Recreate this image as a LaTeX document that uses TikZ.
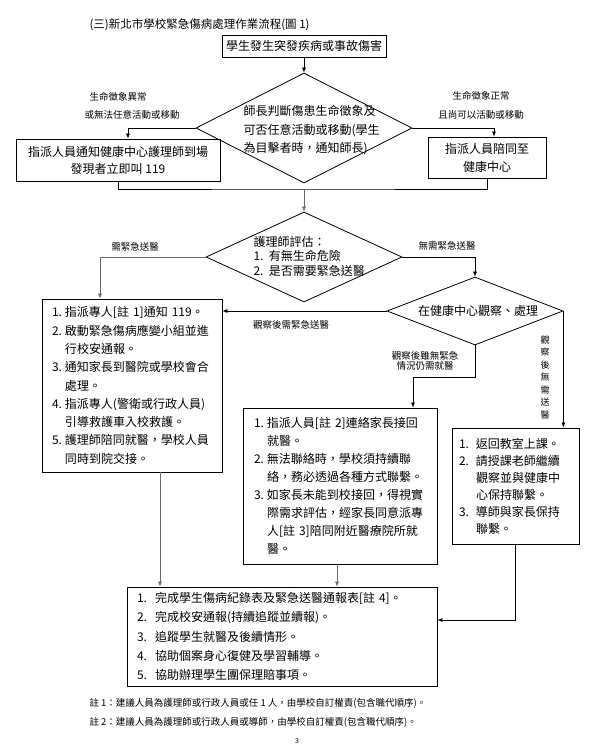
\documentclass[tikz,border=0pt]{standalone}
\usepackage{fontspec}
\setmainfont{Noto Sans CJK TC}
\usepackage{xcolor}
\usetikzlibrary{shapes.geometric,arrows.meta,positioning}
\definecolor{linkgray}{RGB}{105,105,105}
\newcommand{\itemnum}[2][13pt]{\makebox[#1][l]{#2}}
\newcommand{\itemind}[1][13pt]{\hspace*{#1}}

\begin{document}
\begin{tikzpicture}[x=1pt,y=-1pt,
    box/.style={draw, line width=0.9pt, inner ysep=0pt},
    decision/.style={diamond, draw, line width=0.8pt, inner sep=0pt},
    flow/.style={draw, line width=0.6pt, -{Latex[length=5pt,width=4pt]}},
    tag/.style={font=\fontsize{9.5}{10.5}\selectfont, align=center}]
    \useasboundingbox (0,0) rectangle (591,749);

    % Title
    \node[anchor=west, font=\fontsize{11.5}{14}\selectfont] (title) at (86,25) {(三)新北市學校緊急傷病處理作業流程(圖~1)};

    % Start and first check
    \node[box, minimum width=164, minimum height=22, font=\fontsize{12}{14}\selectfont] (start) at (304,46) {學生發生突發疾病或事故傷害};
    \node[decision, minimum width=216, minimum height=110] (check) at (304,128) {};
    \node[anchor=west, align=left, font=\fontsize{12}{18.5}\selectfont] (checktext) at (240,130.5)
        {師長判斷傷患生命徵象及\\可否任意活動或移動(學生\\為目擊者時，通知師長)};

    \node[box, minimum width=204, minimum height=42, align=center, font=\fontsize{12}{17}\selectfont] (notify) at (118,160)
        {指派人員通知健康中心護理師到場\\發現者立即叫~119};
    \node[box, minimum width=118, minimum height=41, align=center, font=\fontsize{12}{18}\selectfont] (escort) at (487,157.5)
        {指派人員陪同至\\健康中心};

    \node[tag] (abnormal) at (118,97) {生命徵象異常};
    \node[tag] (immobile) at (132,115) {或無法任意活動或移動};
    \node[tag] (normal) at (481,96) {生命徵象正常};
    \node[tag] (mobile) at (481,115) {且尚可以活動或移動};

    % Nurse assessment
    \node[decision, minimum width=196, minimum height=90] (assess) at (304,257) {};
    \node[anchor=west, align=left, font=\fontsize{12}{14.5}\selectfont] (assesstext) at (250,256)
        {護理師評估：\\1.~~有無生命危險\\2.~~是否需要緊急送醫};
    \node[tag] (needer) at (135,247) {需緊急送醫};
    \node[tag] (noer) at (447,246) {無需緊急送醫};

    \node[decision, minimum width=176, minimum height=68] (observe) at (475,311) {};
    \node[font=\fontsize{12}{14}\selectfont] (observetext) at (478,311) {在健康中心觀察、處理};
    \node[tag] (obser) at (291,325) {觀察後需緊急送醫};
    \node[tag] (obsclinic) at (425,361) {觀察後雖無緊急\\情況仍需就醫};
    \node[tag, font=\fontsize{9}{12.5}\selectfont] (obsback) at (545,377.5) {觀\\察\\後\\無\\需\\送\\醫};

    % Action boxes
    \node[box, text width=160, inner xsep=10, minimum height=173, align=left, font=\fontsize{12}{18.3}\selectfont] (urgent) at (132,385.5)
        {\itemnum{1.}指派專人[註~1]通知~119。\\
         \itemnum{2.}啟動緊急傷病應變小組並進\\
         \itemind 行校安通報。\\
         \itemnum{3.}通知家長到醫院或學校會合\\
         \itemind 處理。\\
         \itemnum{4.}指派專人(警衛或行政人員)\\
         \itemind 引導救護車入校救護。\\
         \itemnum{5.}護理師陪同就醫，學校人員\\
         \itemind 同時到院交接。};
    \node[box, text width=172, inner xsep=11, minimum height=156, align=left, font=\fontsize{12}{18.1}\selectfont] (parent) at (340,486)
        {\itemnum{1.}指派人員[註~2]連絡家長接回\\
         \itemind 就醫。\\
         \itemnum{2.}無法聯絡時，學校須持續聯\\
         \itemind 絡，務必透過各種方式聯繫。\\
         \itemnum{3.}如家長未能到校接回，得視實\\
         \itemind 際需求評估，經家長同意派專\\
         \itemind 人[註~3]陪同附近醫療院所就\\
         \itemind 醫。};
    \node[box, text width=113, inner xsep=7, minimum height=116, align=left, font=\fontsize{12}{17}\selectfont] (classback) at (515.5,486)
        {\itemnum[17pt]{1.}返回教室上課。\\
         \itemnum[17pt]{2.}請授課老師繼續\\
         \itemind[17pt]觀察並與健康中\\
         \itemind[17pt]心保持聯繫。\\
         \itemnum[17pt]{3.}導師與家長保持\\
         \itemind[17pt]聯繫。};
    \node[box, text width=290, inner xsep=10, minimum height=99, align=left, font=\fontsize{12}{19.2}\selectfont] (followup) at (282,636.5)
        {\itemnum[18pt]{1.}完成學生傷病紀錄表及緊急送醫通報表[註~4]。\\
         \itemnum[18pt]{2.}完成校安通報(持續追蹤並續報)。\\
         \itemnum[18pt]{3.}追蹤學生就醫及後續情形。\\
         \itemnum[18pt]{4.}協助個案身心復健及學習輔導。\\
         \itemnum[18pt]{5.}協助辦理學生團保理賠事項。};

    % Connectors
    \draw[flow] (start) -- (check.north);
    \draw[flow] (check.west) -| ([xshift=10pt]notify.north);
    \draw[flow] (check.east) -| ([xshift=7pt]escort.north);
    \coordinate (merge) at (304,189);
    \draw[line width=0.6pt] (notify.south) |- (merge) -| (escort.south);
    \draw[flow, linkgray] (merge) -- (assess.north);
    \draw[flow, linkgray] (assess.west) -| ([xshift=-32pt]urgent.north);
    \draw[flow] (assess.east) -| (observe.north);
    \draw[flow] (observe.west) -- (urgent.east |- observe.west);
    \draw[flow] (observe.south) -- ++(0,32) -| ([xshift=73pt]parent.north);
    \draw[flow] (observe.east) -- (observe.east |- classback.north);
    \draw[flow, linkgray] ([xshift=28pt]urgent.south) -- ([xshift=28pt]urgent.south |- followup.north);
    \draw[flow, linkgray] ([xshift=-3pt]parent.south) -- ([xshift=-3pt]parent.south |- followup.north);
    \draw[flow] (classback.south) |- ([yshift=16.5pt]followup.east);

    % Notes
    \node[anchor=west, font=\fontsize{9.5}{12}\selectfont] (note1) at (86,703) {註~1：建議人員為護理師或行政人員或任~1~人，由學校自訂權責(包含職代順序)。};
    \node[anchor=west, font=\fontsize{9.5}{12}\selectfont] (note2) at (86,722) {註~2：建議人員為護理師或行政人員或導師，由學校自訂權責(包含職代順序)。};
    \node[font=\fontsize{7}{8}\selectfont] (page) at (297,741) {3};
\end{tikzpicture}
\end{document}
